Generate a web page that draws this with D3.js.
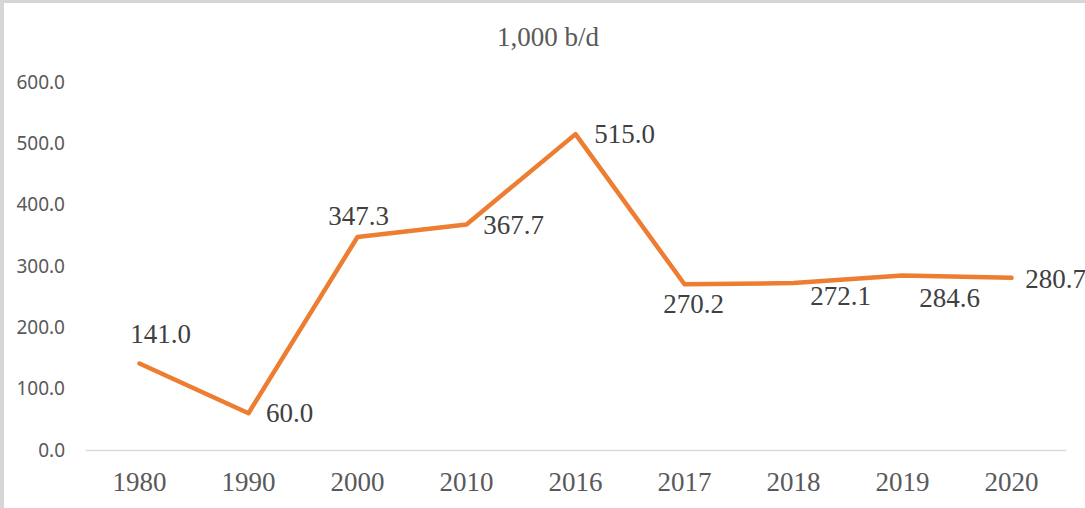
<!DOCTYPE html>
<html>
<head>
<meta charset="utf-8">
<script src="https://cdn.jsdelivr.net/npm/d3@7"></script>
<style>
  html, body { margin: 0; padding: 0; background: #fff; }
  svg { display: block; }
</style>
</head>
<body>
<svg id="chart" width="1085" height="508"></svg>
<script>
const categories = ["1980", "1990", "2000", "2010", "2016", "2017", "2018", "2019", "2020"];
const values = [141.0, 60.0, 347.3, 367.7, 515.0, 270.2, 272.1, 284.6, 280.7];
const yTicks = [0, 100, 200, 300, 400, 500, 600];
const titleText = "1,000 b/d";

// label placement offsets (dx to label centre, dy to baseline), styling only
const labelOffsets = [[21, -21], [41, 9], [1, -12], [47, 10], [49, 9], [9, 29], [47, 22], [47, 32], [44, 10]];

const W = 1085, H = 508;
const svg = d3.select("#chart");

// frame
svg.append("rect").attr("x", 0).attr("y", 0).attr("width", W).attr("height", H).attr("fill", "#d6d6d6");
svg.append("rect").attr("x", 4).attr("y", 3).attr("width", W).attr("height", H).attr("fill", "#ffffff");

const x = d3.scaleBand().domain(categories).range([85, 1066]).padding(0);
const y = d3.scaleLinear().domain([0, 600]).range([450, 82]);
const cx = c => x(c) + x.bandwidth() / 2;

// title
svg.append("text")
  .attr("x", 548).attr("y", 46)
  .attr("text-anchor", "middle")
  .attr("font-family", "'Liberation Serif', 'Times New Roman', serif")
  .attr("font-size", 27)
  .attr("fill", "#595959")
  .text(titleText);

// y axis
const yAxis = svg.append("g")
  .attr("transform", "translate(85,0)")
  .call(d3.axisLeft(y).tickValues(yTicks).tickFormat(d3.format(".1f")).tickSize(0).tickPadding(20));
yAxis.select(".domain").remove();
yAxis.selectAll("text")
  .attr("font-family", "'Noto Sans', 'Open Sans', sans-serif")
  .attr("font-size", 19)
  .attr("fill", "#595959");

// x axis
const xAxis = svg.append("g")
  .attr("transform", "translate(0,450)")
  .call(d3.axisBottom(x).tickSize(0).tickPadding(22));
xAxis.select(".domain").attr("stroke", "#d9d9d9").attr("stroke-width", 1.5);
xAxis.selectAll("text")
  .attr("font-family", "'Liberation Serif', 'Times New Roman', serif")
  .attr("font-size", 27)
  .attr("fill", "#595959");

// line
const line = d3.line()
  .x((d, i) => cx(categories[i]))
  .y(d => y(d));
svg.append("path")
  .datum(values)
  .attr("d", line)
  .attr("fill", "none")
  .attr("stroke", "#ED7D31")
  .attr("stroke-width", 4.5)
  .attr("stroke-linejoin", "round")
  .attr("stroke-linecap", "round");

// data labels
svg.append("g").selectAll("text")
  .data(values)
  .join("text")
  .attr("x", (d, i) => cx(categories[i]) + labelOffsets[i][0])
  .attr("y", (d, i) => y(d) + labelOffsets[i][1])
  .attr("text-anchor", "middle")
  .attr("font-family", "'Liberation Serif', 'Times New Roman', serif")
  .attr("font-size", 27)
  .attr("fill", "#404040")
  .text(d => d3.format(".1f")(d));
</script>
</body>
</html>
